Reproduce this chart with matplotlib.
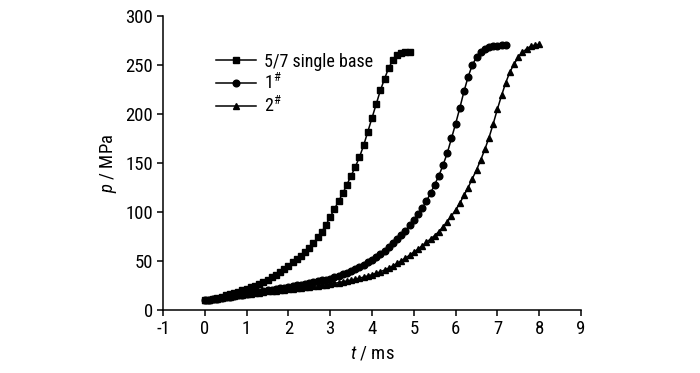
import matplotlib
matplotlib.use("Agg")
import matplotlib.pyplot as plt

FONT = 'Roboto Condensed'
plt.rcParams['font.family'] = [FONT, 'DejaVu Sans']
plt.rcParams['mathtext.fontset'] = 'custom'
plt.rcParams['mathtext.rm'] = FONT
plt.rcParams['mathtext.it'] = FONT + ':italic'
plt.rcParams['mathtext.default'] = 'rm'

t_single = [0.0, 0.1, 0.2, 0.3, 0.4, 0.5, 0.6, 0.7, 0.8, 0.9, 1.0, 1.1, 1.2, 1.3, 1.4, 1.5, 1.6, 1.7, 1.8, 1.9,
            2.0, 2.1, 2.2, 2.3, 2.4, 2.5, 2.6, 2.7, 2.8, 2.9, 3.0, 3.1, 3.2, 3.3, 3.4, 3.5, 3.6, 3.7, 3.8, 3.9,
            4.0, 4.1, 4.2, 4.3, 4.4, 4.5, 4.6, 4.7, 4.8, 4.9]
p_single = [10, 10.5, 11, 12, 13.5, 15, 16, 17, 18.5, 20, 21.5, 23, 25, 27, 29, 31, 33.5, 36, 39, 42,
            45, 48.5, 52, 55.5, 59, 63, 68, 74, 80, 87, 95, 103, 111, 119, 128, 137, 146, 156, 168, 182,
            196, 210, 224, 236, 247, 255, 260, 262, 263, 263.5]

t_1 = [0.0, 0.1, 0.2, 0.3, 0.4, 0.5, 0.6, 0.7, 0.8, 0.9, 1.0, 1.1, 1.2, 1.3, 1.4, 1.5, 1.6, 1.7, 1.8, 1.9,
       2.0, 2.1, 2.2, 2.3, 2.4, 2.5, 2.6, 2.7, 2.8, 2.9, 3.0, 3.1, 3.2, 3.3, 3.4, 3.5, 3.6, 3.7, 3.8, 3.9,
       4.0, 4.1, 4.2, 4.3, 4.4, 4.5, 4.6, 4.7, 4.8, 4.9, 5.0, 5.1, 5.2, 5.3, 5.4, 5.5, 5.6, 5.7, 5.8, 5.9,
       6.0, 6.1, 6.2, 6.3, 6.4, 6.5, 6.6, 6.7, 6.8, 6.9, 7.0, 7.1, 7.2]
p_1 = [10, 10.3, 10.8, 11.4, 12.2, 13, 13.7, 14.4, 15.1, 15.8, 16.5, 17.2, 17.9, 18.6, 19.3, 20, 20.7, 21.4, 22.1, 22.8,
       23.5, 24.3, 25.1, 25.9, 26.7, 27.5, 28.4, 29.3, 30.2, 31.1, 32, 33.5, 35, 36.5, 38.2, 40, 42, 44, 46.2, 48.5,
       51, 54, 57, 60.5, 64, 68, 72, 76.5, 81, 86.5, 92, 98, 104, 111, 119, 128, 137, 148, 160, 175,
       190, 206, 223, 238, 250, 258, 263, 266, 268, 269, 269.5, 270, 270]

t_2 = [0.0, 0.1, 0.2, 0.3, 0.4, 0.5, 0.6, 0.7, 0.8, 0.9, 1.0, 1.1, 1.2, 1.3, 1.4, 1.5, 1.6, 1.7, 1.8, 1.9,
       2.0, 2.1, 2.2, 2.3, 2.4, 2.5, 2.6, 2.7, 2.8, 2.9, 3.0, 3.1, 3.2, 3.3, 3.4, 3.5, 3.6, 3.7, 3.8, 3.9,
       4.0, 4.1, 4.2, 4.3, 4.4, 4.5, 4.6, 4.7, 4.8, 4.9, 5.0, 5.1, 5.2, 5.3, 5.4, 5.5, 5.6, 5.7, 5.8, 5.9,
       6.0, 6.1, 6.2, 6.3, 6.4, 6.5, 6.6, 6.7, 6.8, 6.9, 7.0, 7.1, 7.2, 7.3, 7.4, 7.5, 7.6, 7.7, 7.8, 7.9, 8.0]
p_2 = [10, 10.3, 10.8, 11.4, 12.2, 13, 13.6, 14.2, 14.8, 15.4, 16, 16.6, 17.2, 17.8, 18.4, 19, 19.4, 19.8, 20.2, 20.6,
       21, 21.5, 22, 22.5, 23, 23.5, 24.1, 24.7, 25.3, 25.9, 26.5, 27.2, 28, 28.8, 29.6, 30.5, 31.5, 32.5, 33.6, 34.8,
       36, 37.5, 39, 40.8, 42.8, 45, 47.5, 50.2, 53, 56, 59, 62, 65.5, 69, 72.5, 76, 80, 85, 90, 96,
       102, 109, 117, 125, 134, 143, 153, 164, 176, 190, 205, 219, 232, 243, 251, 258, 263, 266.5, 269, 270.5, 271]

labels = ['5/7 single base', r'1$^{\#}$', r'2$^{\#}$']
x_ticks = [-1, 0, 1, 2, 3, 4, 5, 6, 7, 8, 9]
y_ticks = [0, 50, 100, 150, 200, 250, 300]

fig = plt.figure(figsize=(7.0, 3.73), dpi=100)
ax = fig.add_axes([163/700, 63/373, (581-163)/700, (310-16)/373])

ax.plot(t_single, p_single, color='black', lw=1.1, marker='s', ms=4.3, label=labels[0])
ax.plot(t_1, p_1, color='black', lw=1.1, marker='o', ms=4.8, label=labels[1])
ax.plot(t_2, p_2, color='black', lw=1.1, marker='^', ms=4.6, label=labels[2])

ax.set_xlim(-1, 9)
ax.set_ylim(0, 300)
ax.set_xticks(x_ticks)
ax.set_yticks(y_ticks)
ax.set_xticklabels([str(v) for v in x_ticks])
ax.set_yticklabels([str(v) for v in y_ticks])
for s in ['top', 'right']:
    ax.spines[s].set_visible(False)
for s in ['left', 'bottom']:
    ax.spines[s].set_linewidth(1.1)
ax.tick_params(direction='out', length=4.5, width=1.1, labelsize=13.5, pad=2.5)

ax.set_xlabel(r'$\mathit{t}$ / ms', fontsize=13.5, labelpad=5)
ax.set_ylabel(r'$\mathit{p}$ / MPa', fontsize=13.5, labelpad=5)

leg = ax.legend(loc='upper left', bbox_to_anchor=(0.11, 0.9), frameon=False, fontsize=13,
                handlelength=2.2, handletextpad=0.45, labelspacing=0.15, borderaxespad=0)

fig.savefig('out.png', dpi=100)
